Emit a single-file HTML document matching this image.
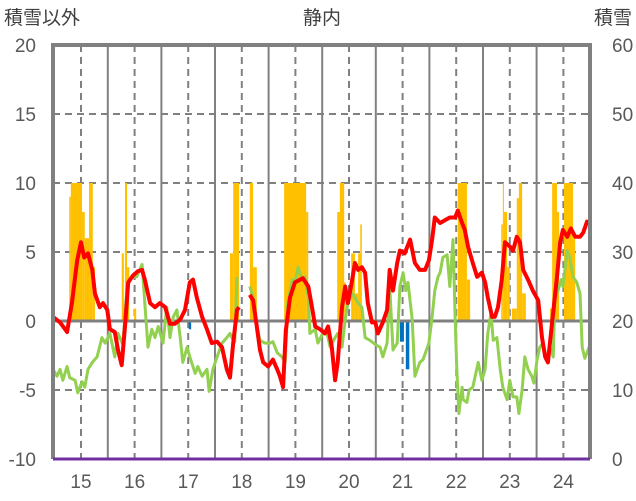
<!DOCTYPE html>
<html><head><meta charset="utf-8">
<style>
html,body{margin:0;padding:0;background:#fff;}
svg{display:block;font-family:"Liberation Sans","Noto Sans CJK JP",sans-serif;}
</style></head>
<body>
<svg id="chart" width="636" height="501" viewBox="0 0 636 501">
<text x="322" y="24" font-size="19" fill="#404040" text-anchor="middle">静内</text>
<text x="4" y="24" font-size="19" fill="#404040">積雪以外</text>
<text x="632" y="24" font-size="19" fill="#404040" text-anchor="end">積雪</text>
<g id="grid"></g>
<g id="bars"></g>
<g id="lines"></g>
<g id="frame"></g>
<g id="labels"></g>
</svg>
<script>
const leftTicks=[20,15,10,5,0,-5,-10];
const rightTicks=[60,50,40,30,20,10,0];
const yearLabels=["15","16","17","18","19","20","21","22","23","24"];
const yearValues=[2015,2016,2017,2018,2019,2020,2021,2022,2023,2024];
const barStart=[2014.78,2014.81,2015.02,2015.07,2015.15,2015.22,2015.76,2015.82,2015.86,2015.99,2017.78,2017.84,2018.15,2018.21,2018.79,2019.20,2019.78,2019.83,2019.91,2020.04,2020.11,2020.17,2020.21,2022.03,2022.20,2022.84,2022.87,2022.89,2022.95,2023.04,2023.13,2023.17,2023.23,2023.75,2023.79,2023.88,2024.01,2024.18];
const barEnd=[2014.81,2015.02,2015.07,2015.15,2015.22,2015.26,2015.80,2015.86,2015.90,2016.03,2017.84,2017.95,2018.21,2018.28,2019.20,2019.24,2019.83,2019.91,2019.94,2020.11,2020.17,2020.22,2020.24,2022.20,2022.26,2022.87,2022.89,2022.95,2023.00,2023.13,2023.17,2023.23,2023.30,2023.79,2023.88,2023.92,2024.18,2024.22];
const barVal=[38,40,35.8,32,40,27.8,29.8,40,27.8,21.8,29.8,40,40,27.8,40,35.8,35.8,40,25.6,29.8,24,29.8,34,40,26,34,40,35.8,27.8,21.8,37.8,40,24,21.8,40,35.8,40,32];
const negStart=[2017.01,2020.95,2021.06];
const negEnd=[2017.07,2021.04,2021.14];
const negVal=[18.8,17,13];
const redYears=[2014.48,2014.61,2014.74,2014.83,2014.93,2015.00,2015.06,2015.13,2015.21,2015.26,2015.35,2015.41,2015.49,2015.54,2015.63,2015.69,2015.76,2015.82,2015.88,2015.97,2016.06,2016.14,2016.19,2016.29,2016.38,2016.47,2016.57,2016.66,2016.75,2016.85,2016.94,2017.03,2017.09,2017.16,2017.26,2017.35,2017.44,2017.54,2017.63,2017.72,2017.78,2017.84,2017.91,2017.95,null,2018.15,2018.21,2018.28,2018.34,2018.40,2018.49,2018.58,2018.66,2018.71,2018.77,2018.82,2018.90,2018.99,2019.09,2019.14,2019.24,2019.31,2019.37,2019.46,2019.55,2019.61,2019.68,2019.74,2019.79,2019.87,2019.93,2019.98,2020.06,2020.11,2020.17,2020.24,2020.30,2020.35,2020.43,2020.49,2020.54,2020.63,2020.71,2020.76,2020.82,2020.90,2020.95,2021.04,2021.14,2021.23,2021.32,2021.42,2021.49,2021.55,2021.60,2021.70,2021.79,2021.88,2021.98,2022.03,2022.11,2022.16,2022.22,2022.31,2022.39,2022.48,2022.54,2022.59,2022.67,2022.72,2022.78,2022.85,2022.91,2023.00,2023.06,2023.13,2023.19,2023.25,2023.34,2023.43,2023.53,2023.60,2023.66,2023.71,2023.79,2023.88,2023.94,2023.99,2024.07,2024.14,2024.22,2024.31,2024.37,2024.44,2024.48];
const redVals=[0.3,-0.1,-0.8,1.3,4.4,5.7,4.6,4.9,3.7,2,1,1.3,0.8,-0.6,-0.8,-2.1,-3.2,-0.4,2.8,3.3,3.6,3.7,3,1.3,1,1.3,1,-0.2,-0.2,0.1,0.8,2.8,3,1.7,0.3,-0.6,-1.6,-1.5,-1.9,-3.5,-4.1,-1.6,0.8,1,null,1.9,1.5,-0.4,-2.1,-3,-3.3,-2.8,-3.5,-4,-4.8,-0.7,1.7,2.8,3,3.1,2.5,1,-0.4,-0.6,-0.9,-0.4,-1.9,-4.3,-3,1,2.5,1.3,3,4.2,3.7,3.9,3.5,1.3,-0.1,-0.1,-0.9,-0.1,0.8,3.7,2.2,4.2,5.1,4.9,5.9,4.2,3.7,3.7,4.4,5.9,7.5,7.1,7.3,7.5,7.5,8,7.1,6.6,5.4,4.2,3.2,3.5,2.8,1.7,0.3,0.3,1,3,5.7,5.4,5.1,6.1,5.7,3.7,3,2.2,1.5,-1.2,-2.6,-3,-0.1,3.2,5.7,6.6,6.1,6.7,6.1,6.1,6.4,7.2,7.1];
const greenYears=[2014.48,2014.55,2014.61,2014.66,2014.74,2014.79,2014.89,2014.94,2015.02,2015.07,2015.13,2015.21,2015.30,2015.39,2015.45,2015.54,2015.63,2015.69,2015.78,2015.86,2015.95,2016.04,2016.14,2016.19,2016.25,2016.32,2016.38,2016.44,2016.53,2016.60,2016.66,2016.72,2016.79,2016.85,2016.90,2016.98,2017.03,2017.13,2017.18,2017.26,2017.35,2017.39,2017.46,2017.54,2017.63,2017.72,2017.78,2017.84,2017.87,2017.91,null,2018.15,2018.21,2018.28,2018.34,2018.43,2018.53,2018.58,2018.66,2018.75,2018.81,2018.86,2018.94,2018.99,2019.05,2019.12,2019.18,2019.24,2019.27,2019.37,2019.42,2019.51,2019.59,2019.65,2019.74,2019.79,2019.87,2019.93,2019.98,2020.06,2020.11,2020.17,2020.24,2020.30,2020.39,2020.49,2020.58,2020.63,2020.71,2020.76,2020.82,2020.90,2020.95,2021.01,2021.06,2021.10,2021.18,2021.23,2021.32,2021.38,2021.49,2021.55,2021.60,2021.66,2021.70,2021.75,2021.83,2021.88,2021.94,2021.98,2022.01,2022.05,2022.11,2022.13,2022.20,2022.24,2022.31,2022.41,2022.48,2022.54,2022.59,2022.65,2022.69,2022.76,2022.82,2022.87,2022.95,2023.00,2023.06,2023.13,2023.17,2023.23,2023.28,2023.34,2023.41,2023.45,2023.51,2023.56,2023.62,2023.69,2023.75,2023.81,2023.84,2023.90,2023.96,2023.99,2024.07,2024.12,2024.18,2024.25,2024.31,2024.35,2024.40,2024.48];
const greenVals=[-3.5,-4,-3.5,-4.3,-3.3,-4.1,-4.3,-5.2,-4.4,-4.8,-3.5,-3,-2.6,-1.2,-1.6,-0.9,-2.6,-0.9,-1.7,2.5,3.2,3.2,4.1,1.3,-1.9,-0.6,-1.2,-0.4,-1.6,1,-1.2,0.3,0.8,-1.2,-3,-1.9,-2.6,-3.8,-3.3,-4,-3.5,-5.1,-3.5,-2.6,-1.6,-1.2,-0.9,-1.4,-1.5,3.2,null,2.5,1.7,-0.4,-1.4,-1.6,-1.6,-1.5,-2.3,-2.6,-3,1.3,3,2.8,3.9,3,3.2,1.7,-0.9,-0.6,-1.6,-0.9,-0.9,-1.9,-1.2,-0.9,-1.9,0.1,1.3,2,1.7,1.3,1,-1.2,-1.4,-1.7,-1.9,-2.6,-1.6,2.5,-2.1,-1.6,2.5,3.5,2.2,2.8,0.1,-4,-3,-2.8,-1.6,0.3,2.2,3.2,3.5,4.6,4.8,2.5,5.9,0.3,-3.3,-6.7,-4.8,-5.7,-5.9,-5,-4.8,-3,-4.3,-3.5,-0.9,0.6,-1.4,-1.2,-3.5,-4.8,-5.7,-4.3,-5.5,-5.5,-6.7,-5,-2.6,-3.5,-4,-4.5,-2.8,-1.9,-1.6,-2.8,-1.9,-2.6,1.5,2.2,3,2.5,5.1,4.6,3.2,2.8,2,-1.9,-2.7,-1.9];

const NS='http://www.w3.org/2000/svg';
const X0=81,PX=53.6,Y0=321,PY=13.8;
function xs(t){return X0+(t-2015)*PX;}
function yl(v){return Y0-v*PY;}
function yr(s){return yl((s-20)/2);}
function mk(tag,attrs,parent){const e=document.createElementNS(NS,tag);for(const k in attrs)e.setAttribute(k,attrs[k]);parent.appendChild(e);return e;}
const grid=document.getElementById('grid'),bars=document.getElementById('bars'),lines=document.getElementById('lines'),frame=document.getElementById('frame'),labels=document.getElementById('labels');
const L=53,R=590,T=45,B=459;
leftTicks.forEach(v=>{
  if(v===20||v===-10||v===0)return;
  const g=mk('line',{x1:L,x2:R,y1:yl(v),y2:yl(v),stroke:'#808080','stroke-width':2,'stroke-dasharray':'7,5'},grid);
  
  
});
yearValues.forEach(y=>{
  const d=mk('line',{x1:xs(y),x2:xs(y),y1:T,y2:B,stroke:'#808080','stroke-width':2,'stroke-dasharray':'7,5'},grid);
  
  
  const s=mk('line',{x1:xs(y+0.5),x2:xs(y+0.5),y1:T,y2:B,stroke:'#808080','stroke-width':2},grid);
  
  
});
barVal.forEach((v,i)=>{
  const x1=xs(barStart[i]),x2=xs(barEnd[i]);
  const r=mk('rect',{x:x1,y:yr(v),width:Math.max(1,x2-x1),height:yr(20)-yr(v),fill:'#ffc000'},bars);
  
  
});
negVal.forEach((v,i)=>{
  const x1=xs(negStart[i]),x2=xs(negEnd[i]);
  const r=mk('rect',{x:x1,y:yr(20),width:Math.max(1,x2-x1-0.8),height:yr(v)-yr(20),fill:'#0070c0'},bars);
  
  
});
const z=mk('line',{x1:L,x2:R,y1:yl(0),y2:yl(0),stroke:'#808080','stroke-width':3},lines);


function pathFor(ts,vs){let d='',pen=false;ts.forEach((t,i)=>{if(t===null||vs[i]===null){pen=false;return;}d+=(pen?'L':'M')+xs(t).toFixed(1)+','+yl(vs[i]).toFixed(1);pen=true;});return d;}
const gp=mk('path',{d:pathFor(greenYears,greenVals),fill:'none',stroke:'#92d050','stroke-width':3,'stroke-linejoin':'round'},lines);


const rp=mk('path',{d:pathFor(redYears,redVals),fill:'none',stroke:'#ff0000','stroke-width':4,'stroke-linejoin':'round'},lines);


const fr=mk('path',{d:`M${L},${B}L${L},${T}L${R},${T}L${R},${B}`,fill:'none',stroke:'#808080','stroke-width':4},frame);


const bl=mk('line',{x1:L,x2:R,y1:B,y2:B,stroke:'#7030a0','stroke-width':3},frame);


leftTicks.forEach(v=>{
  const t=mk('text',{x:36,y:yl(v)+7,'font-size':19,fill:'#595959','text-anchor':'end'},labels);
  t.textContent=v;
  
  
});
rightTicks.forEach(v=>{
  const t=mk('text',{x:612,y:yr(v)+7,'font-size':19,fill:'#595959','text-anchor':'start'},labels);
  t.textContent=v;
  
  
});
yearLabels.forEach((s,i)=>{
  const t=mk('text',{x:xs(yearValues[i]),y:488,'font-size':19,fill:'#595959','text-anchor':'middle'},labels);
  t.textContent=s;
  
  
});
</script>
</body></html>
